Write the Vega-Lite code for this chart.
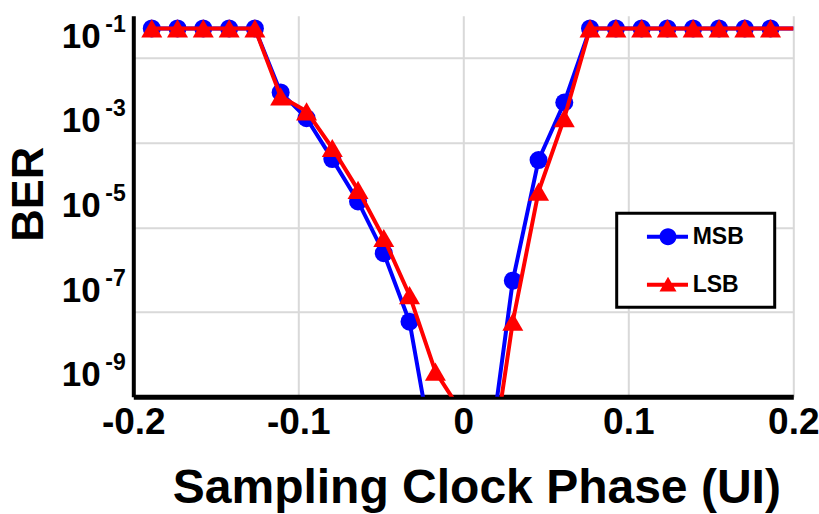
{
  "$schema": "https://vega.github.io/schema/vega-lite/v6.json",
  "autosize": {"type": "none"},
  "width": 660,
  "height": 381,
  "padding": {"left": 133.3, "top": 15.7, "right": 25.7, "bottom": 117.3},
  "background": "white",
  "config": {"view": {"stroke": null}, "font": "Liberation Sans"},
  "data": {"values": [
    {"series": "MSB", "phase": -0.1888, "ber": 0.5},
    {"series": "MSB", "phase": -0.1732, "ber": 0.5},
    {"series": "MSB", "phase": -0.1576, "ber": 0.5},
    {"series": "MSB", "phase": -0.1419, "ber": 0.5},
    {"series": "MSB", "phase": -0.1263, "ber": 0.5},
    {"series": "MSB", "phase": -0.1107, "ber": 0.0154},
    {"series": "MSB", "phase": -0.0950, "ber": 0.0038},
    {"series": "MSB", "phase": -0.0794, "ber": 0.00041},
    {"series": "MSB", "phase": -0.0638, "ber": 4.1e-5},
    {"series": "MSB", "phase": -0.0482, "ber": 2.45e-6},
    {"series": "MSB", "phase": -0.0326, "ber": 5.9e-8},
    {"series": "MSB", "phase": -0.0169, "ber": 2.2e-11},
    {"series": "MSB", "phase": 0.0143, "ber": 1.5e-11},
    {"series": "MSB", "phase": 0.0300, "ber": 5.5e-7},
    {"series": "MSB", "phase": 0.0456, "ber": 0.00039},
    {"series": "MSB", "phase": 0.0612, "ber": 0.0089},
    {"series": "MSB", "phase": 0.0768, "ber": 0.5},
    {"series": "MSB", "phase": 0.0925, "ber": 0.5},
    {"series": "MSB", "phase": 0.1081, "ber": 0.5},
    {"series": "MSB", "phase": 0.1237, "ber": 0.5},
    {"series": "MSB", "phase": 0.1393, "ber": 0.5},
    {"series": "MSB", "phase": 0.1550, "ber": 0.5},
    {"series": "MSB", "phase": 0.1706, "ber": 0.5},
    {"series": "MSB", "phase": 0.1862, "ber": 0.5},
    {"series": "MSB", "phase": 0.2018, "ber": 0.5},
    {"series": "LSB", "phase": -0.1888, "ber": 0.5},
    {"series": "LSB", "phase": -0.1732, "ber": 0.5},
    {"series": "LSB", "phase": -0.1576, "ber": 0.5},
    {"series": "LSB", "phase": -0.1419, "ber": 0.5},
    {"series": "LSB", "phase": -0.1263, "ber": 0.5},
    {"series": "LSB", "phase": -0.1107, "ber": 0.0124},
    {"series": "LSB", "phase": -0.0950, "ber": 0.0055},
    {"series": "LSB", "phase": -0.0794, "ber": 0.00075},
    {"series": "LSB", "phase": -0.0638, "ber": 7.7e-5},
    {"series": "LSB", "phase": -0.0482, "ber": 5.6e-6},
    {"series": "LSB", "phase": -0.0326, "ber": 2.5e-7},
    {"series": "LSB", "phase": -0.0169, "ber": 3.9e-9},
    {"series": "LSB", "phase": -0.0013, "ber": 4.5e-10},
    {"series": "LSB", "phase": 0.0143, "ber": 4.4e-12},
    {"series": "LSB", "phase": 0.0300, "ber": 5.9e-8},
    {"series": "LSB", "phase": 0.0456, "ber": 7.0e-5},
    {"series": "LSB", "phase": 0.0612, "ber": 0.0038},
    {"series": "LSB", "phase": 0.0768, "ber": 0.5},
    {"series": "LSB", "phase": 0.0925, "ber": 0.5},
    {"series": "LSB", "phase": 0.1081, "ber": 0.5},
    {"series": "LSB", "phase": 0.1237, "ber": 0.5},
    {"series": "LSB", "phase": 0.1393, "ber": 0.5},
    {"series": "LSB", "phase": 0.1550, "ber": 0.5},
    {"series": "LSB", "phase": 0.1706, "ber": 0.5},
    {"series": "LSB", "phase": 0.1862, "ber": 0.5},
    {"series": "LSB", "phase": 0.2018, "ber": 0.5}
  ]},
  "layer": [
    {
      "encoding": {
        "x": {
          "field": "phase", "type": "quantitative",
          "scale": {"domain": [-0.2, 0.2], "nice": false, "zero": false},
          "axis": {
            "values": [-0.2, -0.1, 0, 0.1, 0.2],
            "labelExpr": "datum.value == 0 ? '0' : (datum.value < 0 ? '-' : '') + format(abs(datum.value), '.1f')",
            "labelFlush": false,
            "labelFont": "Liberation Sans", "labelFontWeight": "bold", "labelFontSize": 37, "labelColor": "black",
            "labelPadding": 8,
            "ticks": false,
            "domainColor": "black", "domainWidth": 5,
            "grid": true, "gridColor": "#d9d9d9", "gridWidth": 2,
            "title": "Sampling Clock Phase (UI)",
            "titleFont": "Liberation Sans", "titleFontWeight": "bold", "titleFontSize": 48, "titleColor": "black",
            "titlePadding": 24, "titleX": 343
          }
        },
        "y": {
          "field": "ber", "type": "quantitative",
          "scale": {"type": "log", "domain": [1e-9, 1], "nice": false},
          "axis": {
            "values": [1e-9, 1e-7, 1e-5, 1e-3, 1e-1],
            "labelExpr": "'10'",
            "labelFont": "Liberation Sans", "labelFontWeight": "bold", "labelFontSize": 35, "labelColor": "black",
            "labelPadding": 33, "labelOffset": -22,
            "ticks": false,
            "domainColor": "black", "domainWidth": 4,
            "grid": true, "gridColor": "#d9d9d9", "gridWidth": 2,
            "title": "BER",
            "titleFont": "Liberation Sans", "titleFontWeight": "bold", "titleFontSize": 45, "titleColor": "black",
            "titlePadding": 10, "titleY": 178
          }
        },
        "color": {
          "field": "series", "type": "nominal",
          "scale": {"domain": ["MSB", "LSB"], "range": ["#0000ff", "#ff0000"]},
          "legend": {
            "orient": "none", "legendX": 483.4, "legendY": 197.6,
            "title": null,
            "padding": 10, "rowPadding": 22,
            "fillColor": "white", "strokeColor": "black",
            "labelFont": "Liberation Sans", "labelFontWeight": "bold", "labelFontSize": 23, "labelColor": "black",
            "labelOffset": 39,
            "symbolSize": 729,
            "encode": {
              "legend": {"update": {"strokeWidth": {"value": 3}}},
              "symbols": {"update": {
                "shape": {"signal": "datum.value == 'MSB' ? 'M0.5,-0.148L3.54,-0.148L3.54,0.148L0.5,0.148Z M1.43,0 A0.63,0.63 0 1,1 2.69,0 A0.63,0.63 0 1,1 1.43,0Z M9.2,0' : 'M0.5,-0.148L3.54,-0.148L3.54,0.148L0.5,0.148Z M1.43,0.5 L2.06,-0.6 L2.69,0.5Z M9.2,0'"},
                "fill": {"signal": "datum.value == 'MSB' ? '#0000ff' : '#ff0000'"},
                "stroke": {"value": "transparent"},
                "strokeWidth": {"value": 0},
                "opacity": {"value": 1}
              }}
            }
          }
        }
      },
      "layer": [
        {
          "transform": [{"filter": "datum.series == 'MSB'"}],
          "mark": {"type": "line", "strokeWidth": 4, "clip": true}
        },
        {
          "transform": [{"filter": "datum.series == 'MSB' && datum.phase <= 0.2 && datum.ber >= 1e-9"}],
          "mark": {"type": "point", "shape": "circle", "filled": true, "size": 324, "opacity": 1}
        },
        {
          "transform": [{"filter": "datum.series == 'LSB'"}],
          "mark": {"type": "line", "strokeWidth": 4, "clip": true}
        },
        {
          "transform": [{"filter": "datum.series == 'LSB' && datum.phase <= 0.2 && datum.ber >= 1e-9"}],
          "mark": {"type": "point", "shape": "triangle-up", "filled": true, "size": 441, "opacity": 1}
        }
      ]
    },
    {
      "transform": [{"filter": "datum.ber >= 1e-9 && datum.phase <= 0.2"}],
      "mark": {"type": "point", "opacity": 0},
      "encoding": {
        "y": {
          "field": "ber", "type": "quantitative",
          "scale": {"type": "log", "domain": [1e-9, 1], "nice": false},
          "axis": {
            "orient": "left",
            "values": [1e-9, 1e-7, 1e-5, 1e-3, 1e-1],
            "labelExpr": "'-' + format(-log(datum.value) / LN10, '.0f')",
            "labelFont": "Liberation Sans", "labelFontWeight": "bold", "labelFontSize": 23, "labelColor": "black",
            "labelPadding": 8, "labelOffset": -34,
            "ticks": false, "domain": false, "grid": false,
            "title": null
          }
        }
      }
    }
  ],
  "resolve": {"scale": {"y": "independent"}, "axis": {"y": "independent"}}
}
